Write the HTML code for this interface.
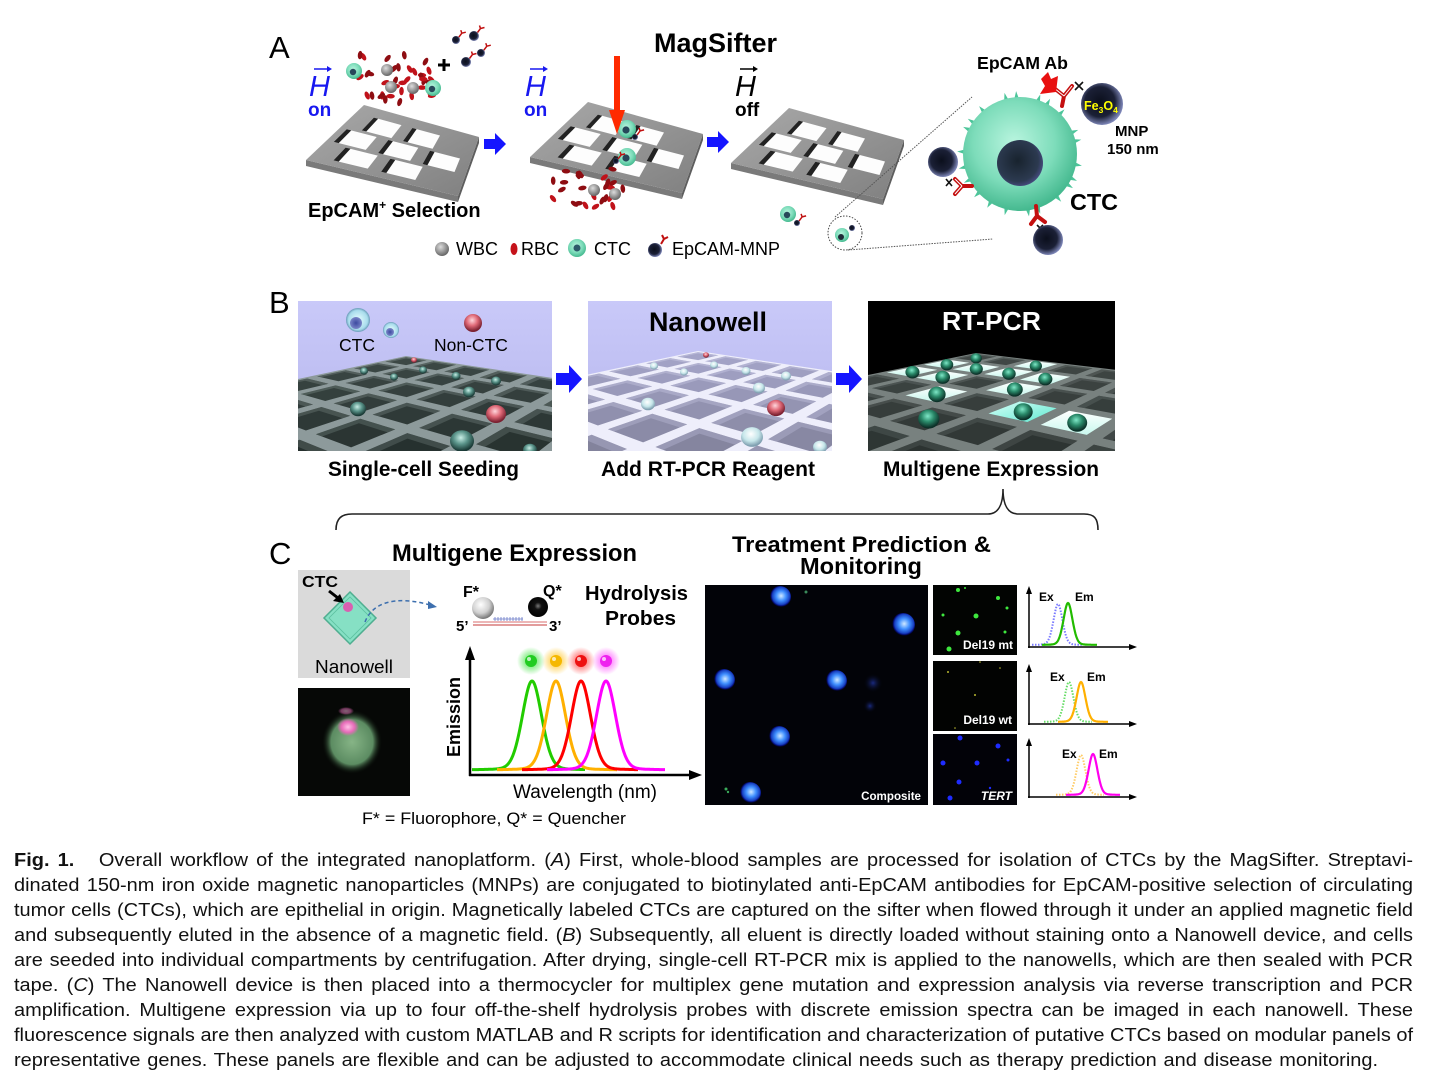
<!DOCTYPE html>
<html><head><meta charset="utf-8">
<style>
html,body{margin:0;padding:0;background:#fff;}
body{width:1435px;height:1089px;position:relative;overflow:hidden;font-family:"Liberation Sans",Arial,sans-serif;}
svg text{font-family:"Liberation Sans",Arial,sans-serif;}
.cap{position:absolute;left:14px;height:25px;line-height:25px;font-size:18.5px;white-space:nowrap;text-align:justify;text-align-last:justify;transform-origin:0 0;color:#111;width:1399px;}
</style></head><body>
<svg id="fig" width="1435" height="845" viewBox="0 0 1435 845" style="position:absolute;left:0;top:0">
<defs>
<linearGradient id="plateG" x1="0" y1="0" x2="1" y2="1"><stop offset="0" stop-color="#a9a9a9"/><stop offset="1" stop-color="#808080"/></linearGradient>
<radialGradient id="ctcG" cx="0.45" cy="0.4" r="0.6"><stop offset="0" stop-color="#b9f5df"/><stop offset="0.6" stop-color="#7ddcba"/><stop offset="1" stop-color="#45b98f"/></radialGradient>
<radialGradient id="mnpG" cx="0.45" cy="0.45" r="0.55"><stop offset="0" stop-color="#0b0f1c"/><stop offset="0.65" stop-color="#1b2036"/><stop offset="1" stop-color="#7d86b8"/></radialGradient>
<radialGradient id="wbcG" cx="0.4" cy="0.35" r="0.65"><stop offset="0" stop-color="#dcdcdc"/><stop offset="1" stop-color="#666"/></radialGradient>
<radialGradient id="nucG" cx="0.45" cy="0.45" r="0.6"><stop offset="0" stop-color="#18232e"/><stop offset="0.75" stop-color="#2c3a50"/><stop offset="1" stop-color="#4d4f8c"/></radialGradient>
<radialGradient id="blueCell" cx="0.55" cy="0.45" r="0.5"><stop offset="0" stop-color="#cfe8ff"/><stop offset="0.45" stop-color="#3f8fff"/><stop offset="0.8" stop-color="#1740c0"/><stop offset="1" stop-color="#0000ff" stop-opacity="0"/></radialGradient>
<radialGradient id="dimBlue" cx="0.5" cy="0.5" r="0.5"><stop offset="0" stop-color="#1a2a80"/><stop offset="1" stop-color="#000" stop-opacity="0"/></radialGradient>
<radialGradient id="greenBlob" cx="0.5" cy="0.5" r="0.5"><stop offset="0" stop-color="#86b486"/><stop offset="0.7" stop-color="#5c8c62"/><stop offset="1" stop-color="#0a120a" stop-opacity="0"/></radialGradient>
<radialGradient id="pinkBlob" cx="0.5" cy="0.5" r="0.5"><stop offset="0" stop-color="#ffc0e6"/><stop offset="0.6" stop-color="#e66ab8"/><stop offset="1" stop-color="#e66ab8" stop-opacity="0"/></radialGradient>
<radialGradient id="gG" r="0.5"><stop offset="0.3" stop-color="#22dd22" stop-opacity="0.6"/><stop offset="1" stop-color="#22dd22" stop-opacity="0"/></radialGradient>
<radialGradient id="oG" r="0.5"><stop offset="0.3" stop-color="#ffbb00" stop-opacity="0.6"/><stop offset="1" stop-color="#ffbb00" stop-opacity="0"/></radialGradient>
<radialGradient id="rG" r="0.5"><stop offset="0.3" stop-color="#ff2222" stop-opacity="0.6"/><stop offset="1" stop-color="#ff2222" stop-opacity="0"/></radialGradient>
<radialGradient id="mG" r="0.5"><stop offset="0.3" stop-color="#ff33ff" stop-opacity="0.6"/><stop offset="1" stop-color="#ff33ff" stop-opacity="0"/></radialGradient>
<radialGradient id="fBall" cx="0.4" cy="0.35" r="0.65"><stop offset="0" stop-color="#ffffff"/><stop offset="0.6" stop-color="#d0d0d0"/><stop offset="1" stop-color="#777"/></radialGradient>
<radialGradient id="qBall" cx="0.5" cy="0.45" r="0.6"><stop offset="0" stop-color="#777"/><stop offset="0.3" stop-color="#111"/><stop offset="1" stop-color="#000"/></radialGradient>
<linearGradient id="lav1" x1="0" y1="0" x2="0" y2="1"><stop offset="0" stop-color="#c9c9f9"/><stop offset="1" stop-color="#b6b6ec"/></linearGradient>
<radialGradient id="sphT" cx="0.45" cy="0.35" r="0.6"><stop offset="0" stop-color="#c8eee6"/><stop offset="0.5" stop-color="#5a948a"/><stop offset="1" stop-color="#1a3a36"/></radialGradient>
<radialGradient id="sphP" cx="0.45" cy="0.35" r="0.6"><stop offset="0" stop-color="#ffd6dc"/><stop offset="0.5" stop-color="#e06a78"/><stop offset="1" stop-color="#7a2030"/></radialGradient>
<radialGradient id="sphW" cx="0.45" cy="0.35" r="0.6"><stop offset="0" stop-color="#ffffff"/><stop offset="0.6" stop-color="#c6e6ea"/><stop offset="1" stop-color="#7f9fb0"/></radialGradient>
<radialGradient id="sphD" cx="0.45" cy="0.35" r="0.6"><stop offset="0" stop-color="#7fe8c8"/><stop offset="0.5" stop-color="#2a8a6a"/><stop offset="1" stop-color="#0c3028"/></radialGradient>
<radialGradient id="ctcB" cx="0.5" cy="0.5" r="0.5"><stop offset="0" stop-color="#e8ffff"/><stop offset="0.8" stop-color="#a8dcec"/><stop offset="1" stop-color="#6a9ab8"/></radialGradient>
<radialGradient id="nucB" cx="0.5" cy="0.5" r="0.5"><stop offset="0" stop-color="#3c4aa0"/><stop offset="1" stop-color="#7a86c8"/></radialGradient>
<linearGradient id="brightG" x1="0" y1="0" x2="0" y2="1"><stop offset="0" stop-color="#ffffff"/><stop offset="1" stop-color="#c8f8ee"/></linearGradient>
<linearGradient id="cyanG" x1="0" y1="0" x2="1" y2="1"><stop offset="0" stop-color="#d8fff8"/><stop offset="1" stop-color="#5fe8d0"/></linearGradient>
</defs>

<!-- ============ PANEL A ============ -->
<text x="269" y="58" font-size="31">A</text>
<text x="654" y="52" font-size="26.5" font-weight="bold" textLength="123" lengthAdjust="spacingAndGlyphs">MagSifter</text>

<g id="plates"></g>
<g id="cellsA"></g>

<g fill="#1818f0">
<text x="309" y="96" font-size="29" font-style="italic">H</text>
<text x="308" y="116" font-size="19" font-weight="bold">on</text>
<text x="525" y="96" font-size="29" font-style="italic">H</text>
<text x="524" y="116" font-size="19" font-weight="bold">on</text>
</g>
<text x="735" y="96" font-size="29" font-style="italic">H</text>
<text x="735" y="116" font-size="19" font-weight="bold">off</text>
<g stroke-width="1.5">
<line x1="314" y1="69" x2="330" y2="69" stroke="#1818f0"/><polygon points="332,69 327,66 327,72" fill="#1818f0"/>
<line x1="530" y1="69" x2="546" y2="69" stroke="#1818f0"/><polygon points="548,69 543,66 543,72" fill="#1818f0"/>
<line x1="740" y1="69" x2="756" y2="69" stroke="#000"/><polygon points="758,69 753,66 753,72" fill="#000"/>
</g>

<polygon points="484,139 495,139 495,133 506,144 495,155 495,149 484,149" fill="#1515ff"/>
<polygon points="707,137 718,137 718,131 729,142 718,153 718,147 707,147" fill="#1515ff"/>

<rect x="614" y="56" width="6" height="56" fill="#ff2a00"/>
<polygon points="609,110 625,110 617,134" fill="#ff2a00"/>

<text x="308" y="217" font-size="20" font-weight="bold">EpCAM<tspan font-size="12" dy="-8">+</tspan><tspan dy="8"> Selection</tspan></text>

<circle cx="442" cy="249" r="7" fill="url(#wbcG)"/>
<text x="456" y="255" font-size="18">WBC</text>
<ellipse cx="514" cy="249" rx="3.5" ry="6" fill="#c5121a"/>
<text x="521" y="255" font-size="18">RBC</text>
<circle cx="577" cy="248" r="9" fill="url(#ctcG)"/><circle cx="577" cy="248" r="3.5" fill="#2c5a6a"/>
<text x="594" y="255" font-size="18">CTC</text>
<circle cx="655" cy="250" r="7" fill="url(#mnpG)"/>
<path d="M661,244 L664,239 M664,239 L662,235 M664,239 L668,237" stroke="#c01010" stroke-width="2" fill="none"/>
<text x="672" y="255" font-size="18" textLength="108" lengthAdjust="spacingAndGlyphs">EpCAM-MNP</text>

<circle cx="845" cy="233" r="17" fill="none" stroke="#444" stroke-width="1" stroke-dasharray="1.5,1.5"/>
<line x1="835" y1="217" x2="972" y2="97" stroke="#555" stroke-width="1" stroke-dasharray="1.5,1.2"/>
<line x1="848" y1="250" x2="993" y2="239" stroke="#555" stroke-width="1" stroke-dasharray="1.5,1.2"/>
<circle cx="842" cy="235" r="7" fill="url(#ctcG)"/><circle cx="841" cy="237" r="3" fill="#1e2a38"/>
<circle cx="852" cy="228" r="3" fill="url(#mnpG)"/>

<g id="spikes"></g>
<circle cx="1020" cy="154" r="57" fill="url(#ctcG)"/>
<circle cx="1020" cy="163" r="23" fill="url(#nucG)"/>
<g stroke="#c41010" stroke-width="4" fill="none" stroke-linecap="round">
<path d="M1062,106 L1064,96 M1064,96 L1054,88 M1064,96 L1072,86"/>
<path d="M972,186 L962,186 M962,186 L955,179 M962,186 L955,194"/>
<path d="M1036,206 L1037,216 M1037,216 L1031,224 M1037,216 L1045,222"/>
</g>
<g stroke="#fff" stroke-width="1" fill="none">
<path d="M1064,96 L1054,88 M1064,96 L1072,86"/>
<path d="M962,186 L955,179 M962,186 L955,194"/>
</g>
<g stroke="#111" stroke-width="1.6">
<path d="M1075,82 L1083,90 M1083,82 L1075,90"/>
<path d="M946,179 L952,186 M952,179 L946,186"/>
<path d="M1037,225 L1043,231 M1043,225 L1037,231"/>
</g>
<circle cx="1102" cy="104" r="21" fill="url(#mnpG)"/>
<circle cx="943" cy="162" r="15" fill="url(#mnpG)"/>
<circle cx="1048" cy="240" r="15" fill="url(#mnpG)"/>
<text x="1084" y="110" font-size="12.5" font-weight="bold" fill="#ffff00">Fe<tspan font-size="8.5" dy="3">3</tspan><tspan dy="-3">O</tspan><tspan font-size="8.5" dy="3">4</tspan></text>
<polygon points="1041,79 1048,72 1051,79 1058,76 1056,92 1040,94 1045,86" fill="#e81010"/>
<text x="977" y="69" font-size="17.6" font-weight="bold" textLength="91" lengthAdjust="spacingAndGlyphs">EpCAM Ab</text>
<text x="1115" y="136" font-size="15" font-weight="bold">MNP</text>
<text x="1107" y="154" font-size="15" font-weight="bold">150 nm</text>
<text x="1070" y="210" font-size="23.4" font-weight="bold">CTC</text>

<!-- ============ PANEL B ============ -->
<text x="269" y="313" font-size="31">B</text>

<svg x="298" y="301" width="254" height="150" overflow="hidden">
<rect width="254" height="150" fill="url(#lav1)"/>
<g id="g1"></g>
<circle cx="60" cy="19" r="12" fill="url(#ctcB)"/><circle cx="58" cy="22" r="6" fill="url(#nucB)"/>
<circle cx="93" cy="29" r="8" fill="url(#ctcB)"/><circle cx="92" cy="31" r="4" fill="url(#nucB)"/>
<circle cx="175" cy="22" r="9" fill="url(#sphP)"/>
<text x="41" y="50" font-size="17.5">CTC</text>
<text x="136" y="50" font-size="17.5">Non-CTC</text>
</svg>

<svg x="588" y="301" width="244" height="150" overflow="hidden">
<rect width="244" height="150" fill="url(#lav1)"/>
<g id="g2"></g>
<text x="61" y="30" font-size="26.9" font-weight="bold" textLength="118" lengthAdjust="spacingAndGlyphs">Nanowell</text>
</svg>

<svg x="868" y="301" width="247" height="150" overflow="hidden">
<rect width="247" height="150" fill="#000"/>
<g id="g3"></g>
<text x="74" y="29" font-size="26.2" font-weight="bold" fill="#fff" textLength="99" lengthAdjust="spacingAndGlyphs">RT-PCR</text>
</svg>

<polygon points="556,373 569,373 569,365 582,379 569,393 569,385 556,385" fill="#1515ff"/>
<polygon points="836,373 849,373 849,365 862,379 849,393 849,385 836,385" fill="#1515ff"/>

<text x="328" y="476" font-size="21" font-weight="bold" textLength="191" lengthAdjust="spacingAndGlyphs">Single-cell Seeding</text>
<text x="601" y="476" font-size="21" font-weight="bold" textLength="214" lengthAdjust="spacingAndGlyphs">Add RT-PCR Reagent</text>
<text x="883" y="476" font-size="21" font-weight="bold" textLength="216" lengthAdjust="spacingAndGlyphs">Multigene Expression</text>

<path d="M336,530 C336,518 342,514 352,514 L988,514 C998,514 1003,505 1003,489 C1003,505 1008,514 1018,514 L1084,514 C1094,514 1098,518 1098,530" stroke="#222" stroke-width="1.6" fill="none"/>

<!-- ============ PANEL C ============ -->
<text x="269" y="564" font-size="31">C</text>
<text x="392" y="561" font-size="23.7" font-weight="bold" textLength="245" lengthAdjust="spacingAndGlyphs">Multigene Expression</text>
<text x="732" y="552" font-size="22.5" font-weight="bold" textLength="259" lengthAdjust="spacingAndGlyphs">Treatment Prediction &amp;</text>
<text x="800" y="574" font-size="23.5" font-weight="bold" textLength="122" lengthAdjust="spacingAndGlyphs">Monitoring</text>

<rect x="298" y="570" width="112" height="108" fill="#dadada"/>
<polygon points="350,592 376,618 350,644 324,618" fill="#86e0c4" stroke="#4fae90" stroke-width="1.5"/>
<polygon points="350,597 371,618 350,639 329,618" fill="none" stroke="#5cc0a0" stroke-width="0.8"/>
<circle cx="348" cy="607" r="5" fill="#d860b0"/>
<text x="302" y="587" font-size="16" font-weight="bold" textLength="36" lengthAdjust="spacingAndGlyphs">CTC</text>
<path d="M329,591 L338,598" stroke="#000" stroke-width="3"/>
<polygon points="344,603 333,601 340,594" fill="#000"/>
<text x="315" y="673" font-size="18.5" textLength="78" lengthAdjust="spacingAndGlyphs">Nanowell</text>
<path d="M365,622 C372,603 395,595 430,605" stroke="#3d6fae" stroke-width="1.5" fill="none" stroke-dasharray="4,3"/>
<polygon points="437,607 428,601 428,609" fill="#3d6fae"/>

<rect x="298" y="688" width="112" height="108" fill="#060806"/>
<ellipse cx="352" cy="742" rx="30" ry="32" fill="url(#greenBlob)"/>
<ellipse cx="348" cy="727" rx="11" ry="9" fill="url(#pinkBlob)"/>
<ellipse cx="346" cy="711" rx="8" ry="4" fill="url(#pinkBlob)" opacity="0.5"/>

<line x1="473" y1="622" x2="547" y2="622" stroke="#e08a8a" stroke-width="1.2"/>
<line x1="473" y1="625" x2="547" y2="625" stroke="#d06060" stroke-width="1.2"/>
<path d="M493,619 L523,619 M495,617 L495,621 M498,617 L498,621 M501,617 L501,621 M504,617 L504,621 M507,617 L507,621 M510,617 L510,621 M513,617 L513,621 M516,617 L516,621 M519,617 L519,621 M522,617 L522,621" stroke="#6a7ac8" stroke-width="0.8"/>
<circle cx="483" cy="608" r="11" fill="url(#fBall)"/>
<circle cx="538" cy="607" r="10" fill="url(#qBall)"/>
<text x="463" y="597" font-size="16" font-weight="bold">F*</text>
<text x="543" y="596" font-size="16" font-weight="bold">Q*</text>
<text x="456" y="631" font-size="15" font-weight="bold">5’</text>
<text x="549" y="631" font-size="15" font-weight="bold">3’</text>
<text x="585" y="600" font-size="20" font-weight="bold" textLength="103" lengthAdjust="spacingAndGlyphs">Hydrolysis</text>
<text x="605" y="625" font-size="20" font-weight="bold" textLength="71" lengthAdjust="spacingAndGlyphs">Probes</text>

<circle cx="531" cy="661" r="14" fill="url(#gG)"/><circle cx="556" cy="661" r="14" fill="url(#oG)"/>
<circle cx="581" cy="661" r="14" fill="url(#rG)"/><circle cx="606" cy="661" r="14" fill="url(#mG)"/>
<circle cx="531" cy="661" r="6" fill="#22cc22"/><circle cx="556" cy="661" r="6" fill="#f5b800"/>
<circle cx="581" cy="661" r="6" fill="#ee1111"/><circle cx="606" cy="661" r="6" fill="#ee22ee"/>
<g fill="#fff" opacity="0.7"><circle cx="529" cy="659" r="2"/><circle cx="554" cy="659" r="2"/><circle cx="579" cy="659" r="2"/><circle cx="604" cy="659" r="2"/></g>
<g id="spec"></g>
<line x1="470" y1="656" x2="470" y2="776" stroke="#000" stroke-width="2.5"/>
<line x1="469" y1="775" x2="692" y2="775" stroke="#000" stroke-width="2.5"/>
<polygon points="470,646 465,660 475,660" fill="#000"/>
<polygon points="702,775 689,770 689,780" fill="#000"/>
<text transform="translate(460,717) rotate(-90)" text-anchor="middle" font-size="18" font-weight="bold">Emission</text>
<text x="513" y="798" font-size="19" textLength="144" lengthAdjust="spacingAndGlyphs">Wavelength (nm)</text>
<text x="362" y="824" font-size="16.5" textLength="264" lengthAdjust="spacingAndGlyphs">F* = Fluorophore,  Q* = Quencher</text>

<rect x="705" y="585" width="223" height="220" fill="#020308"/>
<g>
<circle cx="873" cy="683" r="10" fill="url(#dimBlue)"/>
<circle cx="870" cy="706" r="7" fill="url(#dimBlue)"/>
<circle cx="780" cy="597" r="11" fill="url(#blueCell)"/>
<circle cx="903" cy="625" r="12" fill="url(#blueCell)"/>
<circle cx="724" cy="680" r="11" fill="url(#blueCell)"/>
<circle cx="836" cy="681" r="11" fill="url(#blueCell)"/>
<circle cx="779" cy="737" r="11" fill="url(#blueCell)"/>
<circle cx="750" cy="793" r="11" fill="url(#blueCell)"/>
<circle cx="806" cy="592" r="1.5" fill="#3a8a5a"/><circle cx="726" cy="789" r="1.5" fill="#3aaa5a"/><circle cx="728" cy="792" r="1.2" fill="#3aaa5a"/>
</g>
<text x="921" y="800" font-size="11.6" font-weight="bold" fill="#fff" text-anchor="end">Composite</text>

<rect x="933" y="585" width="84" height="70" fill="#020402"/>
<rect x="933" y="661" width="84" height="70" fill="#020302"/>
<rect x="933" y="734" width="84" height="71" fill="#020208"/>
<g fill="#3ee83e">
<circle cx="958" cy="590" r="2"/><circle cx="998" cy="598" r="2"/><circle cx="976" cy="616" r="2.5"/><circle cx="958" cy="633" r="2.5"/>
<circle cx="949" cy="649" r="2.5"/><circle cx="1005" cy="632" r="1.5"/><circle cx="1007" cy="608" r="1.5"/><circle cx="943" cy="615" r="1.5"/><circle cx="965" cy="588" r="1"/>
</g>
<g fill="#b8b830"><circle cx="948" cy="672" r="1"/><circle cx="975" cy="695" r="1"/><circle cx="1000" cy="668" r="0.8"/><circle cx="955" cy="728" r="0.8"/><circle cx="980" cy="662" r="0.8"/></g>
<g fill="#1e2cff">
<circle cx="960" cy="738" r="2.5"/><circle cx="998" cy="746" r="2.5"/><circle cx="977" cy="763" r="2.5"/><circle cx="943" cy="763" r="2.5"/>
<circle cx="959" cy="782" r="2.5"/><circle cx="950" cy="798" r="2.5"/><circle cx="1008" cy="760" r="1.5"/><circle cx="990" cy="788" r="1.2"/>
</g>
<text x="1013" y="649" font-size="12" font-weight="bold" fill="#fff" text-anchor="end">Del19 mt</text>
<text x="1012" y="724" font-size="12" font-weight="bold" fill="#fff" text-anchor="end">Del19 wt</text>
<text x="1012" y="800" font-size="12" font-weight="bold" font-style="italic" fill="#fff" text-anchor="end">TERT</text>

<g stroke="#000" stroke-width="1.5">
<line x1="1029" y1="592" x2="1029" y2="648"/><line x1="1028" y1="647" x2="1131" y2="647"/>
<line x1="1029" y1="670" x2="1029" y2="725"/><line x1="1028" y1="724" x2="1131" y2="724"/>
<line x1="1029" y1="744" x2="1029" y2="798"/><line x1="1028" y1="797" x2="1131" y2="797"/>
</g>
<g fill="#000">
<polygon points="1029,586 1026,594 1032,594"/><polygon points="1137,647 1129,644 1129,650"/>
<polygon points="1029,664 1026,672 1032,672"/><polygon points="1137,724 1129,721 1129,727"/>
<polygon points="1029,738 1026,746 1032,746"/><polygon points="1137,797 1129,794 1129,800"/>
</g>
<g id="mini"></g>
<g font-size="12" font-weight="bold">
<text x="1039" y="601">Ex</text><text x="1075" y="601">Em</text>
<text x="1050" y="681">Ex</text><text x="1087" y="681">Em</text>
<text x="1062" y="758">Ex</text><text x="1099" y="758">Em</text>
</g>
</svg>

<div class="cap" data-w="1399" style="top:847px"><b>Fig. 1.</b>&nbsp;&nbsp; Overall workflow of the integrated nanoplatform. (<i>A</i>) First, whole-blood samples are processed for isolation of CTCs by the MagSifter. Streptavi-</div>
<div class="cap" data-w="1399" style="top:872px">dinated 150-nm iron oxide magnetic nanoparticles (MNPs) are conjugated to biotinylated anti-EpCAM antibodies for EpCAM-positive selection of circulating</div>
<div class="cap" data-w="1399" style="top:897px">tumor cells (CTCs), which are epithelial in origin. Magnetically labeled CTCs are captured on the sifter when flowed through it under an applied magnetic field</div>
<div class="cap" data-w="1399" style="top:922px">and subsequently eluted in the absence of a magnetic field. (<i>B</i>) Subsequently, all eluent is directly loaded without staining onto a Nanowell device, and cells</div>
<div class="cap" data-w="1399" style="top:947px">are seeded into individual compartments by centrifugation. After drying, single-cell RT-PCR mix is applied to the nanowells, which are then sealed with PCR</div>
<div class="cap" data-w="1399" style="top:972px">tape. (<i>C</i>) The Nanowell device is then placed into a thermocycler for multiplex gene mutation and expression analysis via reverse transcription and PCR</div>
<div class="cap" data-w="1399" style="top:997px">amplification. Multigene expression via up to four off-the-shelf hydrolysis probes with discrete emission spectra can be imaged in each nanowell. These</div>
<div class="cap" data-w="1399" style="top:1022px">fluorescence signals are then analyzed with custom MATLAB and R scripts for identification and characterization of putative CTCs based on modular panels of</div>
<div class="cap" data-w="1364" data-last="1" style="top:1047px">representative genes. These panels are flexible and can be adjusted to accommodate clinical needs such as therapy prediction and disease monitoring.</div>

<script>
(function(){
const NS='http://www.w3.org/2000/svg';
function el(p,t,a){const e=document.createElementNS(NS,t);for(const k in a)e.setAttribute(k,a[k]);p.appendChild(e);return e;}
function P(a){return a.map(p=>p[0].toFixed(1)+','+p[1].toFixed(1)).join(' ');}
let seed=11;function rnd(){seed=(seed*16807)%2147483647;return (seed-1)/2147483646;}

/* caption fitting */
try{
const caps=[...document.querySelectorAll('.cap')];
caps.forEach(d=>{d.style.width='auto';d.style.textAlignLast='auto';d.style.display='inline-block';});
let s=10;
caps.forEach(d=>{if(d.dataset.last)return;const w=d.getBoundingClientRect().width;s=Math.min(s,(+d.dataset.w)/w);});
if(!(s>0.5&&s<2)) s=1;
caps.forEach(d=>{const t=+d.dataset.w;const w=d.getBoundingClientRect().width;d.style.display='block';
 if(d.dataset.last){d.style.width=(Math.min(t/s,w+400))+'px';}else d.style.width=(t/s)+'px';
 d.style.textAlignLast='justify';d.style.transform='scaleX('+s.toFixed(4)+')';});
}catch(e){}

/* plates */
const gp=document.getElementById('plates');
function bil(q,s,t){const f=[q.L[0]+s*(q.B[0]-q.L[0]),q.L[1]+s*(q.B[1]-q.L[1])];const b=[q.T[0]+s*(q.R[0]-q.T[0]),q.T[1]+s*(q.R[1]-q.T[1])];return [f[0]+t*(b[0]-f[0]),f[1]+t*(b[1]-f[1])];}
function plate(dx,dy){
 const q={L:[306+dx,160+dy],B:[458+dx,196+dy],T:[364+dx,105+dy],R:[479+dx,137+dy]};
 const th=6;
 el(gp,'polygon',{points:P([q.L,q.B,[q.B[0],q.B[1]+th],[q.L[0],q.L[1]+th]]),fill:'#7a7a7a'});
 el(gp,'polygon',{points:P([q.B,q.R,[q.R[0],q.R[1]+th],[q.B[0],q.B[1]+th]]),fill:'#5e5e5e'});
 el(gp,'polygon',{points:P([q.L,q.B,q.R,q.T]),fill:'url(#plateG)'});
 const rows=[[0.63,0.86,[[0.15,0.38],[0.47,0.70]]],[0.36,0.59,[[0.05,0.28],[0.37,0.60],[0.69,0.92]]],[0.09,0.32,[[0.15,0.38],[0.47,0.70]]]];
 for(const [t0,t1,ss] of rows) for(const [s0,s1] of ss){
  el(gp,'polygon',{points:P([bil(q,s0,t0),bil(q,s1,t0),bil(q,s1,t1),bil(q,s0,t1)]),fill:'#fdfdfd'});
  el(gp,'polygon',{points:P([bil(q,s0,t0),bil(q,s0+0.035,t0),bil(q,s0+0.035,t1),bil(q,s0,t1)]),fill:'#222'});
 }
}
plate(0,0);plate(224,-3);plate(425,3);

/* cells panel A */
const ga=document.getElementById('cellsA');
function rbcs(x0,x1,y0,y1,n){for(let k=0;k<n;k++){const x=x0+rnd()*(x1-x0),y=y0+rnd()*(y1-y0),a=rnd()*180;
 el(ga,'ellipse',{cx:x.toFixed(1),cy:y.toFixed(1),rx:2.3,ry:4.2,fill:rnd()<0.5?'#c0121a':'#8e0d12',transform:'rotate('+a.toFixed(0)+' '+x.toFixed(1)+' '+y.toFixed(1)+')'});}}
rbcs(360,432,54,106,36);
rbcs(552,624,168,207,26);
[[387,70],[391,87],[413,88],[594,190],[615,194]].forEach(p=>el(ga,'circle',{cx:p[0],cy:p[1],r:6,fill:'url(#wbcG)'}));
[[354,71,8],[433,88,8],[627,129,9],[627,157,9],[788,214,8]].forEach(p=>{el(ga,'circle',{cx:p[0],cy:p[1],r:p[2],fill:'url(#ctcG)'});el(ga,'circle',{cx:p[0]-1,cy:p[1]+1,r:p[2]*0.4,fill:'#27485a'});});
[[456,40,4],[474,36,5],[481,53,4],[466,62,5],[635,137,3],[616,161,3],[797,223,3]].forEach(p=>{el(ga,'circle',{cx:p[0],cy:p[1],r:p[2],fill:'url(#mnpG)'});el(ga,'path',{d:'M'+(p[0]+p[2]*0.7)+','+(p[1]-p[2]*0.7)+' l3,-4 l-1,-3 m1,3 l4,-1',stroke:'#c01010','stroke-width':1.5,fill:'none'});});
el(ga,'path',{d:'M438,65 h12 M444,59 v12',stroke:'#000','stroke-width':3});

const sp=document.getElementById('spikes');
for(let k=0;k<22;k++){const a=k/22*Math.PI*2+rnd()*0.2,r=57;
 const t=[[1020+Math.cos(a-0.05)*(r-3),154+Math.sin(a-0.05)*(r-3)],[1020+Math.cos(a)*(r+6),154+Math.sin(a)*(r+6)],[1020+Math.cos(a+0.05)*(r-3),154+Math.sin(a+0.05)*(r-3)]];
 el(sp,'polygon',{points:P(t),fill:'#4cc59a'});}

/* perspective grids */
function grid(gid,o){
 const g=document.getElementById(gid);
 const {apex,VA,VB,ka,kb,W,H,bar,b}=o;
 const den=(u,v)=>1-ka*u-kb*v;
 const pt=(u,v)=>{const d=den(u,v);return [(apex[0]-ka*u*VA[0]-kb*v*VB[0])/d,(apex[1]-ka*u*VA[1]-kb*v*VB[1])/d];};
 const sl=(apex[1]-VA[1])/(apex[0]-VA[0]), sr=(apex[1]-VB[1])/(apex[0]-VB[0]);
 el(g,'polygon',{points:P([apex,[-20,apex[1]+sl*(-20-apex[0])],[-20,H+20],[W+20,H+20],[W+20,apex[1]+sr*(W+20-apex[0])]]),fill:bar});
 const cells=[];
 for(let i=0;i<30;i++)for(let j=0;j<30;j++){
  if(den(i+1,j+1)<0.05) continue;
  const c=[pt(i+b,j+b),pt(i+1-b,j+b),pt(i+1-b,j+1-b),pt(i+b,j+1-b)];
  const xs=c.map(p=>p[0]),ys=c.map(p=>p[1]);
  if(Math.max(...xs)<-5||Math.min(...xs)>W+5||Math.min(...ys)>H+5) continue;
  cells.push({i,j,c,ctr:pt(i+0.5,j+0.5),wall:[pt(i+b,j+b),pt(i+1-b,j+b),pt(i+1-b,j+b+0.14),pt(i+b+0.14,j+b+0.14),pt(i+b+0.14,j+1-b),pt(i+b,j+1-b)]});
 }
 return {g,cells,pt};
}
function mix(a,b,t){t=Math.max(0,Math.min(1,t));const pa=a.match(/\w\w/g).map(h=>parseInt(h,16)),pb=b.match(/\w\w/g).map(h=>parseInt(h,16));return 'rgb('+pa.map((v,k)=>Math.round(v+(pb[k]-v)*t)).join(',')+')';}
function drawCells(G,far,near,wallFar,wallNear,H,special){
 for(const c of G.cells){
  const t=c.ctr[1]/H;
  const sf=special?special(c):null;
  el(G.g,'polygon',{points:P(c.c),fill:sf||mix(far,near,t)});
  if(!sf) el(G.g,'polygon',{points:P(c.wall),fill:mix(wallFar,wallNear,t),opacity:0.55});
 }
}
function sph(g,x,y,r,grad){el(g,'ellipse',{cx:x,cy:y,rx:r,ry:r*0.9,fill:'url(#'+grad+')'});}

const G1=grid('g1',{apex:[108,55],VA:[460,-20],VB:[-392,-20],ka:0.072,kb:0.051,W:254,H:150,bar:'#8d9a9b',b:0.12});
drawCells(G1,'4a5855','26302e','7d8a88','55625f',150);
[[116,59,3,'sphP'],[66,70,4,'sphT'],[125,69,4,'sphT'],[96,76,4,'sphT'],[158,75,4.5,'sphT'],[198,80,5,'sphT'],[171,91,6,'sphT'],[60,108,8,'sphT'],[198,113,10,'sphP'],[164,140,12,'sphT'],[232,149,7,'sphT']].forEach(s=>sph(G1.g,s[0],s[1],s[2],s[3]));

const G2=grid('g2',{apex:[110,50],VA:[462,-25],VB:[-390,-25],ka:0.072,kb:0.051,W:244,H:150,bar:'#eeeefb',b:0.12});
drawCells(G2,'b7b7e2','83839c','d6d6f2','a8a8c4',150);
[[118,54,3,'sphP'],[66,65,4,'sphW'],[126,64,4,'sphW'],[96,71,4,'sphW'],[158,70,4.5,'sphW'],[198,75,5,'sphW'],[171,87,6,'sphW'],[60,103,7,'sphW'],[188,107,9,'sphP'],[164,136,11,'sphW'],[232,146,7,'sphW']].forEach(s=>sph(G2.g,s[0],s[1],s[2],s[3]));

const G3=grid('g3',{apex:[108,52],VA:[461,-20],VB:[-487,-20],ka:0.072,kb:0.043,W:247,H:150,bar:'#78817f',b:0.12});
const bright={'1,0':'url(#brightG)','2,0':'url(#brightG)','1,1':'url(#brightG)','2,1':'url(#brightG)','1,2':'url(#brightG)','1,3':'url(#brightG)','2,3':'url(#brightG)','3,2':'url(#brightG)','3,5':'url(#brightG)','3,4':'url(#cyanG)','0,2':'url(#brightG)'};
const isB=c=>bright[c.i+','+c.j]||null;
drawCells(G3,'4d5553','2c3331','6f7876','4a5250',150,isB);
for(const c of G3.cells){const k=c.i+','+c.j;if(isB(c)||k==='0,0'||k==='4,3'){const w=Math.abs(c.c[1][0]-c.c[3][0]);sph(G3.g,c.ctr[0],c.ctr[1]+1,Math.max(3,Math.min(12,w*0.14)),'sphD');}}

/* spectra */
function peak(c,top,base,x0,x1,w){let d='';for(let x=x0;x<=x1;x+=0.5){const z=(x-c)/w;const f=0.85*Math.exp(-z*z)+0.15/(1+2*z*z);const y=base-(base-top)*f;d+=(x===x0?'M':'L')+x.toFixed(1)+','+y.toFixed(1);}return d;}
const gs=document.getElementById('spec');
[[532,472,585,'#22cc00'],[556,497,617,'#ffb000'],[581,522,638,'#ff0000'],[606,547,665,'#ff00ff']].forEach(p=>el(gs,'path',{d:peak(p[0],681,770,p[1],p[2],14),stroke:p[3],'stroke-width':3,fill:'none'}));
const gm=document.getElementById('mini');
const mini=[
 [1058,604,645,1032,1082,'#7a7aff',true],[1068,603,645,1042,1097,'#22bb00',false],
 [1069,682,722,1044,1092,'#66dd66',true],[1081,682,722,1058,1108,'#ffb000',false],
 [1081,755,795,1056,1104,'#ffcc66',true],[1093,754,795,1066,1120,'#ff00ee',false]];
mini.forEach(m=>el(gm,'path',{d:peak(m[0],m[1],m[2],m[3],m[4],6.5),stroke:m[5],'stroke-width':m[6]?2:2.2,fill:'none','stroke-dasharray':m[6]?'1.5,1.5':'none'}));
})();
</script>
</body></html>
